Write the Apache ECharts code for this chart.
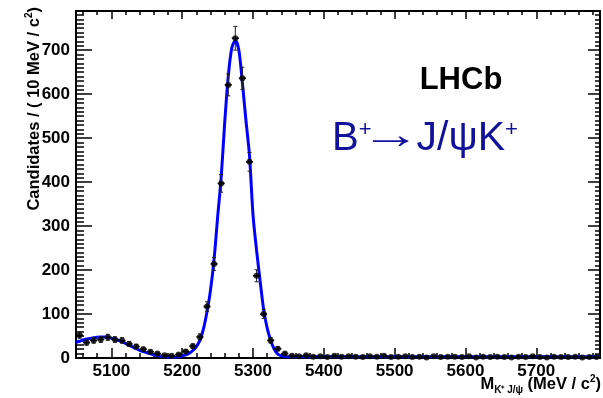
<!DOCTYPE html>
<html><head><meta charset="utf-8">
<script src="https://cdn.jsdelivr.net/npm/echarts@6/dist/echarts.min.js"></script>
<style>html,body{margin:0;padding:0;background:#fff}#c{width:603px;height:398px}</style>
</head><body><div id="c"></div>
<script>
// ---- data ----
const binLow = 5050, binWidth = 10;
// bin contents 5050-5350 (10 MeV bins)
const peakCounts = [52, 35, 40, 42, 47, 42, 40, 32, 26, 20, 14, 10, 6, 5, 8, 15, 27, 48, 117, 214, 397, 621, 727, 636, 446, 187, 100, 40, 21, 10];
// bin contents 5350-5790
const tailCounts = [5, 4, 6, 3, 4, 2, 5, 3, 4, 3, 2, 4, 3, 5, 2, 3, 4, 2, 3, 1, 4, 2, 3, 3, 2, 4, 1, 3, 2, 3, 2, 1, 3, 2, 4, 2, 1, 3, 2, 2, 3, 1, 2, 2];
// fitted curve
const fitMass = [5050, 5055, 5060, 5065, 5070, 5075, 5080, 5085, 5090, 5095, 5100, 5105, 5110, 5115, 5120, 5125, 5130, 5135, 5140, 5145, 5150, 5155, 5160, 5165, 5170, 5175, 5180, 5185, 5190, 5195, 5200, 5205, 5210, 5215, 5220, 5225, 5230, 5235, 5240, 5245, 5250, 5255, 5260, 5265, 5270, 5275, 5280, 5285, 5290, 5295, 5300, 5305, 5310, 5315, 5320, 5325, 5330, 5335, 5340, 5345, 5350, 5790];
const fitValue = [36, 38, 41, 43, 44.5, 46, 47, 47.5, 47.5, 47, 45, 43, 40, 37, 33, 29, 25, 21, 17.5, 14.5, 12, 9.5, 7.5, 5.5, 4, 3, 2.5, 2.2, 2.3, 3, 4.5, 7, 11, 17, 26, 40, 66, 105, 155, 225, 320, 410, 535, 640, 705, 722, 700, 625, 540, 460, 325, 245, 175, 110, 68, 40, 20, 9, 5, 3.5, 3, 3];
const xMajorTicks = [5100, 5200, 5300, 5400, 5500, 5600, 5700];
const yMajorTicks = [0, 100, 200, 300, 400, 500, 600, 700];
const xMin = 5050, xMax = 5790, yMin = 0, yMax = 789;

// ---- build ----
const allCounts = peakCounts.concat(tailCounts);
const points = allCounts.map((n, i) => [binLow + binWidth * (i + 0.5), n, Math.sqrt(n)]);
const fitData = fitMass.map((m, i) => [m, fitValue[i]]);
const xMinor = []; for (let v = 5060; v < xMax; v += 20) xMinor.push(v);
const yMinor = []; for (let v = 10; v < yMax; v += 10) yMinor.push(v);

const FONT = 'Liberation Sans';
const labelStyle = { color: '#000', fontFamily: FONT, fontWeight: 'bold', fontSize: 17, formatter: v => String(v) };

function xAx(pos, ticks, len, showLabels) {
  return {
    type: 'value', position: pos, min: xMin, max: xMax,
    axisLine: { show: true, onZero: false, lineStyle: { color: '#000', width: 2 } },
    axisTick: { show: true, inside: true, length: len, customValues: ticks, lineStyle: { color: '#000', width: 1.5 } },
    axisLabel: showLabels ? Object.assign({ show: true, margin: 5, customValues: ticks }, labelStyle) : { show: false },
    splitLine: { show: false }
  };
}
function yAx(pos, ticks, len, showLabels) {
  return {
    type: 'value', position: pos, min: yMin, max: yMax,
    axisLine: { show: true, onZero: false, lineStyle: { color: '#000', width: 2 } },
    axisTick: { show: true, inside: true, length: len, customValues: ticks, lineStyle: { color: '#000', width: 1.5 } },
    axisLabel: showLabels ? Object.assign({ show: true, margin: 6, customValues: ticks }, labelStyle) : { show: false },
    splitLine: { show: false }
  };
}

const mctx = document.createElement('canvas').getContext('2d');
function fnt(p) { return (p.bold ? 'bold ' : '') + p.size + 'px "' + (p.family || FONT) + '"'; }
function tw(t, f) { mctx.font = f; return mctx.measureText(t).width; }
function pieces(list, x0, baseline, color, alignRight) {
  const widths = list.map(p => tw(p.t, fnt(p)) * (p.sx || 1) + (p.adv || 0));
  const total = widths.reduce((a, b) => a + b, 0);
  let x = alignRight ? x0 - total : x0;
  return list.map((p, i) => {
    const el = {
      type: 'text', x: x + (p.pre || 0), y: baseline - 0.3 * p.size - (p.shift || 0), scaleX: p.sx || 1,
      style: { text: p.t, font: fnt(p), fill: color, textAlign: 'left', textVerticalAlign: 'middle', align: 'left', verticalAlign: 'middle' }
    };
    x += widths[i];
    return el;
  });
}

const chart = echarts.init(document.getElementById('c'), null, { renderer: 'canvas' });
const graphics = [];
graphics.push({ type: 'text', x: 461, y: 80, style: { text: 'LHCb', font: 'bold 31px "' + FONT + '"', fill: '#000', textAlign: 'center', textVerticalAlign: 'middle', align: 'center', verticalAlign: 'middle' } });
const blue = '#111199';
pieces([
  { t: 'B', size: 40 }, { t: '+', size: 22, shift: 14 },
  { t: '\u2192', size: 40, sx: 1.5, shift: 2, pre: -11, adv: -15 },
  { t: 'J/\u03C8K', size: 41 }, { t: '+', size: 22, shift: 14 }
], 332, 151, blue, false).forEach(e => graphics.push(e));
pieces([
  { t: 'M', size: 16.5, bold: true }, { t: 'K\u207A J/\u03C8', size: 10, bold: true, shift: -4 },
  { t: ' (MeV / c', size: 16.5, bold: true }, { t: '2', size: 10, bold: true, shift: 7 }, { t: ')', size: 16.5, bold: true }
], 601, 389, '#000', true).forEach(e => graphics.push(e));
graphics.push({
  type: 'group', x: 0, y: 7, rotation: Math.PI / 2,
  children: pieces([
    { t: 'Candidates / ( 10 MeV / c', size: 16.5, bold: true }, { t: '2', size: 10, bold: true, shift: 7 }, { t: ')', size: 16.5, bold: true }
  ], 0, 39, '#000', true)
});

chart.setOption({
  animation: false,
  backgroundColor: '#fff',
  grid: { left: 76, top: 11, width: 524, height: 347, containLabel: false },
  xAxis: [xAx('bottom', xMajorTicks, 10, true), xAx('bottom', xMinor, 5, false), xAx('top', xMajorTicks, 8, false), xAx('top', xMinor, 4, false)],
  yAxis: [yAx('left', yMajorTicks, 16, true), yAx('left', yMinor, 8, false), yAx('right', yMajorTicks, 12, false), yAx('right', yMinor, 5, false)],
  series: [
    {
      type: 'line', data: fitData, smooth: 0.3, showSymbol: false, z: 2,
      lineStyle: { color: '#0000ff', width: 3 }, xAxisIndex: 0, yAxisIndex: 0
    },
    {
      type: 'custom', data: points, z: 3, xAxisIndex: 0, yAxisIndex: 0,
      renderItem: function (params, api) {
        const x = api.value(0), y = api.value(1), e = api.value(2);
        const c = api.coord([x, y]);
        const top = api.coord([x, y + e]);
        const bot = api.coord([x, Math.max(y - e, 0)]);
        const l = api.coord([x - binWidth / 2, y]);
        const r = api.coord([x + binWidth / 2, y]);
        const ch = [
          { type: 'line', shape: { x1: l[0], y1: c[1], x2: r[0], y2: c[1] }, style: { stroke: '#000', lineWidth: 1.5 } }
        ];
        if (e > 0) {
          ch.push({ type: 'line', shape: { x1: c[0], y1: top[1], x2: c[0], y2: bot[1] }, style: { stroke: '#222', lineWidth: 1 } });
          ch.push({ type: 'line', shape: { x1: c[0] - 2, y1: top[1], x2: c[0] + 2, y2: top[1] }, style: { stroke: '#222', lineWidth: 1 } });
          ch.push({ type: 'line', shape: { x1: c[0] - 2, y1: bot[1], x2: c[0] + 2, y2: bot[1] }, style: { stroke: '#222', lineWidth: 1 } });
        }
        return { type: 'group', children: ch };
      }
    },
    {
      type: 'scatter', data: points.map(p => [p[0], p[1]]), symbol: 'circle', symbolSize: 6, z: 4,
      itemStyle: { color: '#000' }, xAxisIndex: 0, yAxisIndex: 0
    }
  ],
  graphic: graphics
});
</script>
</body></html>
